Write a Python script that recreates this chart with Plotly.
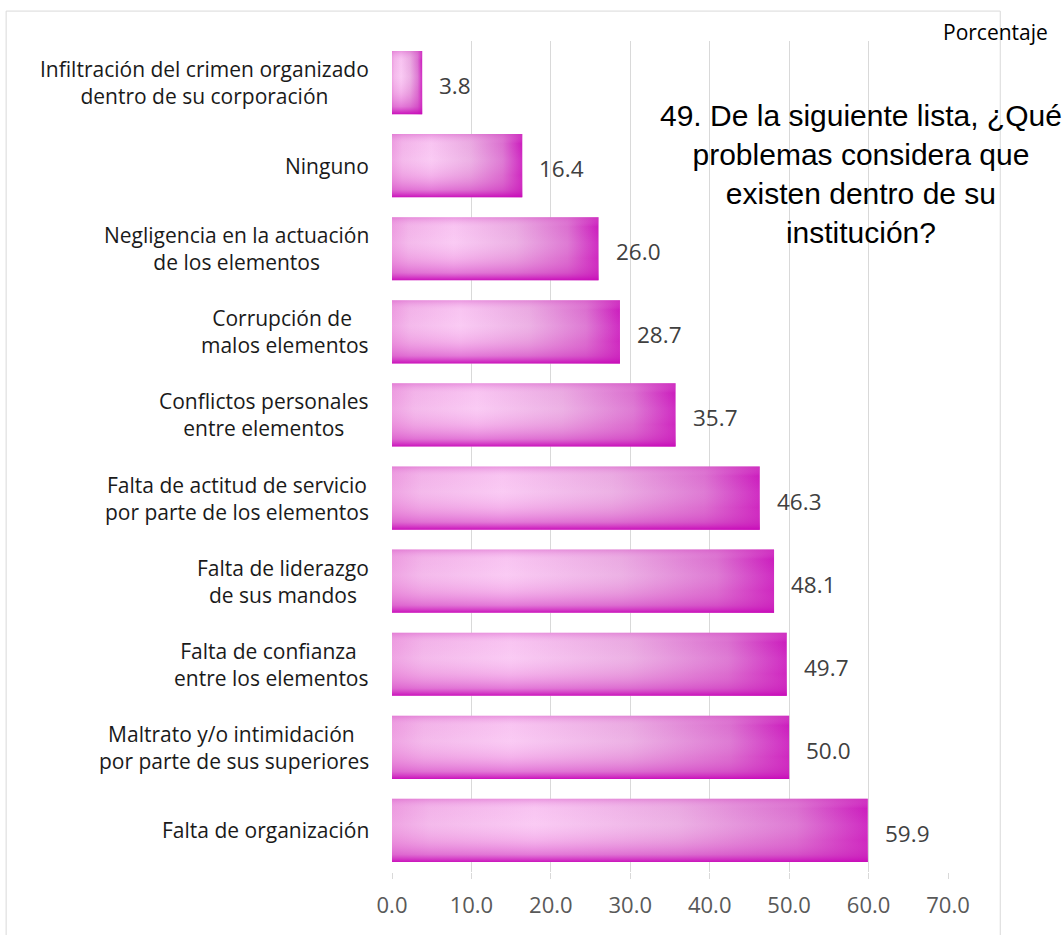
import plotly.graph_objects as go

# Problems perceived inside the institution (percent of respondents)
categories = [
    "Infiltración del crimen organizado<br>dentro de su corporación",
    "Ninguno",
    "Negligencia en la actuación<br>de los elementos",
    "Corrupción de <br>malos elementos",
    "Conflictos personales<br>entre elementos",
    "Falta de actitud de servicio<br>por parte de los elementos",
    "Falta de liderazgo<br>de sus mandos",
    "Falta de confianza <br>entre los elementos",
    "Maltrato y/o intimidación <br>por parte de sus superiores",
    "Falta de organización",
]
values = [3.8, 16.4, 26.0, 28.7, 35.7, 46.3, 48.1, 49.7, 50.0, 59.9]
x_ticks = [0, 10, 20, 30, 40, 50, 60, 70]
title_text = ("49. De la siguiente lista, ¿Qué<br>problemas considera que<br>"
              "existen dentro de su<br>institución?")
unit_text = "Porcentaje"

LABEL_FONT = "Open Sans, Carlito, Calibri, sans-serif"
n = len(categories)
half = 0.38  # half of the bar thickness in category units

fig = go.Figure()

for i, (cat, v) in enumerate(zip(categories, values)):
    pos = n - 1 - i  # first category drawn at the top
    xs = [0, v, v, 0, 0]
    ys = [pos - half, pos - half, pos + half, pos + half, pos - half]
    # base horizontal gradient: pale pink to magenta
    fig.add_trace(go.Scatter(
        x=xs, y=ys, mode="lines", fill="toself",
        line=dict(width=0), hoverinfo="skip", showlegend=False,
        fillgradient=dict(
            type="horizontal",
            colorscale=[[0.0, "#ec98de"], [0.08, "#f2b2e8"], [0.3, "#f9c6f2"],
                        [0.6, "#e9a8e0"], [0.85, "#d868cc"], [1.0, "#c70cb8"]],
        ),
    ))
    # vertical shading: darker magenta along the lower edge
    fig.add_trace(go.Scatter(
        x=xs, y=ys, mode="lines", fill="toself",
        line=dict(width=0), hoverinfo="skip", showlegend=False,
        fillgradient=dict(
            type="vertical",
            colorscale=[[0.0, "rgba(200,10,185,0.95)"], [0.12, "rgba(210,60,195,0.55)"],
                        [0.35, "rgba(230,120,215,0.25)"], [0.6, "rgba(255,230,255,0.15)"],
                        [0.85, "rgba(245,190,240,0.1)"], [1.0, "rgba(215,90,200,0.45)"]],
        ),
    ))
    # value label
    fig.add_annotation(
        x=v, y=pos, xref="x", yref="y", text=f"{v:.1f}",
        showarrow=False, xanchor="left", xshift=15, yshift=-3,
        font=dict(family=LABEL_FONT, size=22.5, color="#404040"),
    )
    # category label, lines centered, block right-aligned to the plot
    fig.add_annotation(
        x=0, y=pos, xref="x", yref="y", text=cat,
        showarrow=False, xanchor="right", align="center", xshift=-21,
        font=dict(family=LABEL_FONT, size=21, color="#1a1a1a"),
    )

# question text
fig.add_annotation(
    x=0.8435, y=0.9326, xref="paper", yref="paper", text=title_text,
    showarrow=False, xanchor="center", yanchor="top", align="center",
    font=dict(family="Liberation Sans, Arial, sans-serif", size=30, color="#000000"),
)
# unit label
fig.add_annotation(
    x=1.1835, y=1.0108, xref="paper", yref="paper", text=unit_text,
    showarrow=False, xanchor="right", yanchor="middle",
    font=dict(family=LABEL_FONT, size=21, color="#000000"),
)

# chart frame
fig.add_shape(
    type="rect", xref="paper", yref="paper",
    x0=-0.694, x1=1.094, y0=-0.2, y1=1.036,
    line=dict(color="#d9d9d9", width=1), fillcolor="rgba(0,0,0,0)", layer="below",
)

fig.update_xaxes(
    range=[0, 70], tickvals=x_ticks, ticktext=[f"{t:.1f}" for t in x_ticks],
    showgrid=True, gridcolor="#d9d9d9", gridwidth=1.3,
    zeroline=False, showline=False,
    ticks="outside", ticklen=6, tickcolor="#d9d9d9",
    ticklabelstandoff=8,
    tickfont=dict(family=LABEL_FONT, size=22, color="#595959"),
)
fig.update_yaxes(
    range=[-0.5, n - 0.5], showticklabels=False, showgrid=False,
    zeroline=False, showline=False,
)

fig.update_layout(
    width=1063, height=935,
    margin=dict(l=392, r=115, t=41, b=63),
    paper_bgcolor="white", plot_bgcolor="white",
    showlegend=False,
)

fig.write_html("out.html")
